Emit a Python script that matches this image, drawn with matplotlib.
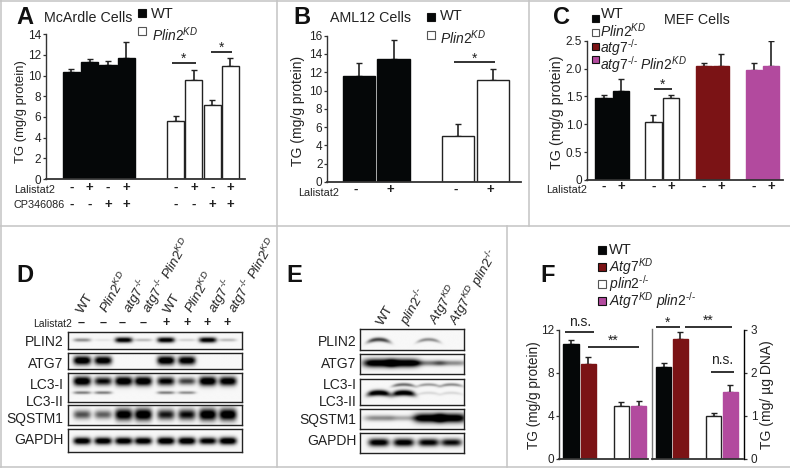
import numpy as np
import matplotlib
matplotlib.use('Agg')
from matplotlib import pyplot as plt
from matplotlib.patches import Rectangle

plt.rcParams['font.family'] = ['Liberation Sans', 'DejaVu Sans']
plt.rcParams['mathtext.fontset'] = 'custom'
plt.rcParams['mathtext.rm'] = 'Liberation Sans'
plt.rcParams['mathtext.it'] = 'Liberation Sans:italic'
plt.rcParams['mathtext.default'] = 'regular'

W, H = 790, 468
BLACK = '#050708'
RED = '#7b1315'
PINK = '#b24a9e'
TXT = '#222222'

# panel A
a_vals = [10.4, 11.3, 11.0, 11.75, 5.6, 9.55, 7.2, 10.95]
a_err = [0.2, 0.3, 0.4, 1.55, 0.5, 1.0, 0.4, 0.75]
a_lal = ['-', '+', '-', '+', '-', '+', '-', '+']
a_cp = ['-', '-', '+', '+', '-', '-', '+', '+']
a_yticks = [0, 2, 4, 6, 8, 10, 12, 14]

# panel B
b_vals = [11.55, 13.45, 5.07, 11.15]
b_err = [1.45, 2.05, 1.23, 1.2]
b_lal = ['-', '+', '-', '+']
b_yticks = [0, 2, 4, 6, 8, 10, 12, 14, 16]

# panel C
c_vals = [1.48, 1.6, 1.04, 1.48, 2.04, 2.04, 1.98, 2.05]
c_err = [0.05, 0.21, 0.12, 0.05, 0.06, 0.22, 0.12, 0.45]
c_lal = ['-', '+', '-', '+', '-', '+', '-', '+']
c_yticks = [0, 0.5, 1.0, 1.5, 2.0, 2.5]
c_yticklabels = ['0', '0.5', '1.0', '1.5', '2.0', '2.5']

# panel F
f_left_vals = [10.7, 8.8, 4.9, 4.9]
f_left_err = [0.4, 0.65, 0.35, 0.5]
f_right_vals = [2.14, 2.78, 0.99, 1.56]
f_right_err = [0.09, 0.17, 0.08, 0.16]

# blots: band strength per lane
d_plin2 = [0.35, 0.06, 0.9, 0.2, 0.9, 0.12, 0.9, 0.2]
d_atg7 = [1.0, 0.95, 0, 0, 1.0, 0.95, 0, 0]
d_lc3_i = [1.0, 0.8, 1.0, 1.0, 0.85, 0.6, 1.0, 0.95]
d_lc3_ii = [0.4, 0.4, 0, 0, 0.4, 0.35, 0, 0]
d_sqstm1 = [0.55, 0.5, 0.95, 1.0, 0.75, 0.8, 1.0, 1.0]
d_gapdh = [0.95, 0.95, 0.95, 0.95, 1.0, 1.0, 0.9, 1.0]
e_plin2 = [0.6, 0, 0.35, 0]
e_atg7 = [1.0, 1.0, 0.4, 0.35]
e_lc3_i = [0, 0.45, 0.3, 0.35]
e_lc3_ii = [0.95, 0.95, 0.1, 0.1]
e_sqstm1 = [0.35, 0.25, 1.0, 1.0]
e_gapdh = [0.9, 0.9, 0.85, 0.8]

HY = '\u2010'
KD = '^{\\mathit{KD}}'
KO = '^{' + HY + '/' + HY + '}'
PLIN2KD = '$\\mathit{Plin2}' + KD + '$'
ATG7KO = '$\\mathit{atg7}' + KO + '$'
ATG7KD = '$\\mathit{Atg7}' + KD + '$'
PLIN2KO = '$\\mathit{plin2}' + KO + '$'

fig = plt.figure(figsize=(W / 100, H / 100), dpi=100)


def axes_px(x0, y0, x1, y1):
    # y0 is the top, pixels from the top of the picture
    return fig.add_axes([x0 / W, 1 - y1 / H, (x1 - x0) / W, (y1 - y0) / H])


over = fig.add_axes([0, 0, 1, 1], zorder=10)
over.set_xlim(0, W)
over.set_ylim(H, 0)
over.axis('off')
over.patch.set_alpha(0)


def label(x, y, s, size=10, ha='left', va='center', **kw):
    over.text(x, y, s, fontsize=size, ha=ha, va=va, color=kw.pop('color', TXT), **kw)


def square(x, y, col, s=8):
    over.add_patch(Rectangle((x, y - s / 2), s, s, fc=col, ec='#111111' if col != 'white' else '#555555', lw=0.8))


def bars(ax, xs, vals, errs, cols, width=0.93):
    for x, v, e, c in zip(xs, vals, errs, cols):
        ax.bar(x, v, width, color=c, edgecolor='#222222' if c == 'white' else c, lw=1.0, zorder=2)
        ax.errorbar(x, v, yerr=[[0], [e]], color='#222222', capsize=2.2, lw=1.2, capthick=1.0, zorder=1)


def style(ax, ylim, yticks, size=8.5, labels=None):
    ax.set_ylim(*ylim)
    ax.set_yticks(yticks)
    if labels is not None:
        ax.set_yticklabels(labels)
    ax.set_xticks([])
    ax.patch.set_alpha(0)
    ax.spines['top'].set_visible(False)
    ax.spines['right'].set_visible(False)
    ax.spines['left'].set_linewidth(1.0)
    ax.spines['bottom'].set_linewidth(1.3)
    ax.spines['left'].set_color('#333333')
    ax.spines['bottom'].set_color('#333333')
    ax.tick_params(axis='y', labelsize=size, length=2.5, width=0.9, pad=1.0, labelcolor=TXT, color='#333333')


def signs(ax, xs, marks, dy, size=9.5):
    for x, m in zip(xs, marks):
        ax.annotate(m, (x, 0), xycoords=('data', 'axes fraction'), xytext=(0, -dy * 0.72),
                    textcoords='offset points', ha='center', va='center', fontsize=size,
                    color=TXT, fontweight='bold', annotation_clip=False)


def bracket(ax, x0, x1, y, star, size=10, dy=5):
    ax.plot([x0, x1], [y, y], color='#222222', lw=1.3, clip_on=False, solid_capstyle='butt')
    ax.annotate(star, ((x0 + x1) / 2, y), xytext=(0, dy), textcoords='offset points', ha='center',
                va='center', fontsize=size, color=TXT, annotation_clip=False)


# A
ax = axes_px(46, 34.3, 245, 179)
a_x = [0, 1, 2, 3, 5.7, 6.68, 7.69, 8.67]
ax.set_xlim(-1.38, 9.47)
bars(ax, a_x, a_vals, a_err, [BLACK] * 4 + ['white'] * 4)
style(ax, (0, 14), a_yticks)
bracket(ax, 5.47, 6.78, 11.2, '*', dy=3)
bracket(ax, 7.6, 8.75, 12.26, '*', dy=3)
signs(ax, a_x, a_lal, 8.7)
signs(ax, a_x, a_cp, 26)
label(21.5, 112, 'TG (mg/g protein)', 9.4, ha='center', rotation=90)
label(14, 190, 'Lalistat2', 7.8)
label(14, 205, 'CP346086', 7.8)
label(44, 17.5, 'McArdle Cells', 10.3)

# B
ax = axes_px(327.3, 35.7, 520.7, 182)
b_x = [0, 1.0, 2.88, 3.9]
b_signx = [-0.1, 0.9, 2.82, 3.82]
ax.set_xlim(-0.93, 4.7)
bars(ax, b_x, b_vals, b_err, [BLACK] * 2 + ['white'] * 2, width=0.94)
style(ax, (0, 16), b_yticks)
bracket(ax, 2.76, 3.95, 13.07, '*', dy=3)
signs(ax, b_signx, b_lal, 8)
label(298, 111, 'TG (mg/g protein)', 10, ha='center', rotation=90)
label(298, 192.5, 'Lalistat2', 7.8)
label(330.5, 17.5, 'AML12 Cells', 10.3)

# C
ax = axes_px(587, 40.7, 783, 180)
c_x = [0, 1.02, 2.93, 3.96, 5.89, 6.9, 8.83, 9.85]
ax.set_xlim(-0.98, 10.55)
bars(ax, c_x, c_vals, c_err, [BLACK] * 2 + ['white'] * 2 + [RED] * 2 + [PINK] * 2, width=0.96)
style(ax, (0, 2.5), c_yticks, labels=c_yticklabels)
bracket(ax, 2.94, 4.04, 1.63, '*', dy=3)
signs(ax, c_x, c_lal, 7)
label(557, 112, 'TG (mg/g protein)', 10.3, ha='center', rotation=90)
label(546, 190, 'Lalistat2', 7.8)
label(664, 20.5, 'MEF Cells', 10.3)

# F
ax = axes_px(559, 330, 648.3, 458.7)
f_x = [0, 1.0, 2.91, 3.9]
ax.set_xlim(-0.69, 4.46)
bars(ax, f_x, f_left_vals, f_left_err, [BLACK, RED, 'white', PINK], width=0.9)
style(ax, (0, 12), [0, 4, 8, 12])
bracket(ax, -0.35, 1.35, 11.8, 'n.s.', dy=7)
bracket(ax, 0.96, 3.94, 10.38, '**', dy=5)
label(534, 395, 'TG (mg/g protein)', 9.8, ha='center', rotation=90)

ax = axes_px(651.7, 330, 744.3, 458.7)
f_x2 = [0, 1.0, 2.98, 3.96]
ax.set_xlim(-0.71, 4.79)
bars(ax, f_x2, f_right_vals, f_right_err, [BLACK, RED, 'white', PINK], width=0.9)
style(ax, (0, 3), [0, 1, 2, 3])
ax.spines['left'].set_bounds(0, 3.03)
ax.spines['left'].set_color('#777777')
ax.spines['right'].set_visible(True)
ax.spines['right'].set_linewidth(1.0)
ax.spines['bottom'].set_bounds(-0.71, 4.73)
ax.yaxis.tick_right()
ax.tick_params(axis='y', pad=2)
bracket(ax, -0.46, 0.97, 3.08, '*', dy=3)
bracket(ax, 1.27, 4.04, 3.08, '**', dy=4)
bracket(ax, 2.81, 4.18, 2.01, 'n.s.', dy=9)
label(767, 395, 'TG (mg/ µg DNA)', 10, ha='center', rotation=90)


def blot(x0, y0, x1, y1, rows, lanes, widths=0.05, bend=0.0):
    # rows is a list of (strengths, height in the box, thickness)
    ax = axes_px(x0, y0, x1, y1)
    X, Y = np.meshgrid(np.linspace(0, 1, 300), np.linspace(0, 1, 80))
    img = np.zeros_like(X)
    for strengths, yc, thick in rows:
        for c, s in zip(lanes, strengths):
            yy = yc + bend * ((X - c) / widths) ** 2
            img += s * np.exp(-((X - c) / widths) ** 4 - ((Y - yy) / (thick * (0.45 + 0.55 * s))) ** 2)
    ax.imshow(np.clip(1 - 1.25 * img, 0, 1) * 0.97, cmap='gray', vmin=0, vmax=1, aspect='auto',
              extent=(0, 1, 1, 0), interpolation='bilinear')
    ax.set_xticks([])
    ax.set_yticks([])
    for s in ax.spines.values():
        s.set_linewidth(1.0)
        s.set_color('#222222')


# D
lanes_d = [0.08, 0.2, 0.318, 0.43, 0.56, 0.68, 0.8, 0.915]
blot(67.7, 331.7, 242.3, 349.3, [(d_plin2, 0.5, 0.16)], lanes_d)
blot(67.7, 352.7, 242.3, 369.3, [(d_atg7, 0.5, 0.26)], lanes_d)
blot(67.7, 373.3, 242.3, 401.7, [(d_lc3_i, 0.28, 0.16), (d_lc3_ii, 0.68, 0.08)], lanes_d)
blot(67.7, 405.3, 242.3, 425, [(d_sqstm1, 0.48, 0.3)], lanes_d)
blot(67.7, 429, 242.3, 452, [(d_gapdh, 0.52, 0.16)], lanes_d)

for y, s in zip([342, 363.5, 385, 402, 419, 440], ['PLIN2', 'ATG7', 'LC3-I', 'LC3-II', 'SQSTM1', 'GAPDH']):
    label(63.5, y, s, 10, ha='right')

d_names = ['WT', PLIN2KD, ATG7KO, ATG7KO + ' ' + PLIN2KD] * 2
d_x = [83, 107, 131, 150, 170, 192, 216, 236]
for x, s in zip(d_x, d_names):
    over.text(x, 314, s, fontsize=9.6, rotation=60, ha='left', va='baseline', rotation_mode='anchor', color=TXT)
d_marks = ['–', '–', '–', '–', '+', '+', '+', '+']
for x, m in zip([80.7, 102.7, 121.7, 143, 165.7, 186.7, 206.7, 227], d_marks):
    label(x, 323, m, 9, ha='center', fontweight='bold')
label(33, 324, 'Lalistat2', 7.5)

# E
lanes_e = [0.18, 0.42, 0.66, 0.88]
blot(360, 329.3, 464, 350, [(e_plin2, 0.5, 0.13)], lanes_e, widths=0.11, bend=0.12)
blot(360, 354, 464, 374, [(e_atg7, 0.48, 0.2)], lanes_e, widths=0.15)
blot(360, 378.7, 464, 405, [(e_lc3_i, 0.24, 0.09), (e_lc3_ii, 0.55, 0.11)], lanes_e, widths=0.11, bend=0.06)
blot(360, 409, 464, 429, [(e_sqstm1, 0.48, 0.22)], lanes_e, widths=0.14)
blot(360, 433.3, 464, 453.3, [(e_gapdh, 0.5, 0.2)], lanes_e, widths=0.1)

for y, s in zip([342, 364, 385, 402, 420, 441], ['PLIN2', 'ATG7', 'LC3-I', 'LC3-II', 'SQSTM1', 'GAPDH']):
    label(356.5, y, s, 10, ha='right')

e_names = ['WT', PLIN2KO, ATG7KD, ATG7KD + ' ' + PLIN2KO]
for x, s in zip([383, 408, 437, 457], e_names):
    over.text(x, 326, s, fontsize=9.6, rotation=60, ha='left', va='baseline', rotation_mode='anchor', color=TXT)

# legends
square(138, 13, BLACK)
label(151, 14, 'WT', 10.5)
square(138, 31, 'white')
label(152, 35, PLIN2KD, 10)
square(427, 16.5, BLACK)
label(439.5, 15.5, 'WT', 10.5)
square(427, 35, 'white')
label(440, 37.5, PLIN2KD, 10)
square(591.5, 18, BLACK, 7)
label(600.5, 13.5, 'WT', 10.5)
square(591.5, 32, 'white', 7)
label(600.5, 30.5, PLIN2KD, 10)
square(591.5, 46.5, RED, 7)
label(600.5, 48, ATG7KO, 10)
square(591.5, 59, PINK, 7)
label(600.5, 65, ATG7KO + ' ' + PLIN2KD, 10)
square(598, 250, BLACK)
label(609, 249.5, 'WT', 10.5)
square(598, 267, RED)
label(609, 267, ATG7KD, 10)
square(598, 284, 'white')
label(609, 284, PLIN2KO, 10)
square(598, 301, PINK)
label(609, 301, ATG7KD + ' ' + PLIN2KO, 10)

# panel letters
for x, y, s in [(16, 18, 'A'), (293, 17, 'B'), (552.5, 18, 'C'), (16, 275, 'D'), (286, 275, 'E'), (540, 275, 'F')]:
    label(x, y, s, 17, fontweight='bold', color='#111111')

# panel frames
for xs, ys in [([0, 790], [0.5, 0.5]), ([0.7, 0.7], [0, 467]), ([0, 790], [225.7, 225.7]), ([0, 790], [467, 467]),
               ([277, 277], [0, 467]), ([529, 529], [0, 225.7]), ([507, 507], [225.7, 467])]:
    over.plot(xs, ys, color='#c4c4c4', lw=1.1)

fig.savefig('out.png', dpi=100)
